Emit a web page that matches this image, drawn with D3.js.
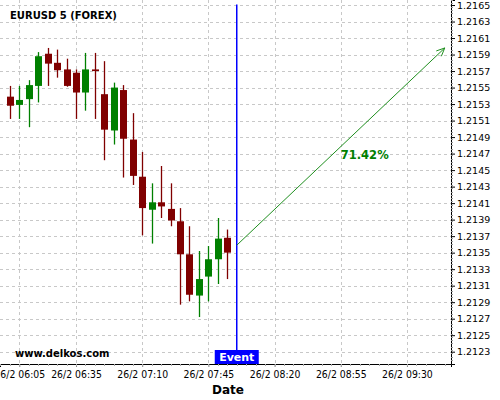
<!DOCTYPE html>
<html><head><meta charset="utf-8">
<script src="https://cdn.jsdelivr.net/npm/d3@7"></script>
<style>html,body{margin:0;padding:0;background:#fff;}svg{display:block;font-family:"DejaVu Sans",sans-serif;}</style>
</head><body><svg id="c" width="500" height="400"></svg>
<script>
const title = "EURUSD 5 (FOREX)";
const times = ["06:00","06:05","06:10","06:15","06:20","06:25","06:30","06:35","06:40","06:45","06:50","06:55",
               "07:00","07:05","07:10","07:15","07:20","07:25","07:30","07:35","07:40","07:45","07:50","07:55"];
const opens  = [1.21539,1.21529,1.21536,1.21552,1.21591,1.21580,1.21572,1.21568,1.21544,1.21572,1.21542,1.21498,
                1.21547,1.21487,1.21442,1.21402,1.21411,1.21403,1.21388,1.21348,1.21298,1.21321,1.21342,1.21368];
const highs  = [1.21552,1.21552,1.21559,1.21593,1.21598,1.21596,1.21585,1.21572,1.21592,1.21592,1.21582,1.21556,
                1.21553,1.21519,1.21472,1.21434,1.21455,1.21434,1.21404,1.21382,1.21352,1.21358,1.21392,1.21378];
const lows   = [1.21512,1.21512,1.21502,1.21532,1.21552,1.21562,1.21551,1.21512,1.21522,1.21512,1.21462,1.21481,
                1.21441,1.21432,1.21371,1.21361,1.21392,1.21382,1.21287,1.21291,1.21272,1.21291,1.21312,1.21318];
const closes = [1.21528,1.21535,1.21553,1.21588,1.21579,1.21571,1.21552,1.21544,1.21572,1.21570,1.21499,1.21550,
                1.21488,1.21443,1.21404,1.21411,1.21406,1.21389,1.21348,1.21299,1.21318,1.21342,1.21367,1.21350];
const xTickLabels = ["06:05","06:35","07:10","07:45","08:20","08:55","09:30"];
const yTicks = [1.2123,1.2125,1.2127,1.2129,1.2131,1.2133,1.2135,1.2137,1.2139,1.2141,1.2143,1.2145,
                1.2147,1.2149,1.2151,1.2153,1.2155,1.2157,1.2159,1.2161,1.2163,1.2165];
const eventTime = "08:00";
const arrowFrom = {time:"08:00", value:1.21359};
const arrowTo   = {time:"09:50", value:1.21598};
const arrowLabel = "71.42%";
const arrowLabelPos = {time:"08:55", value:1.21463};
const watermark = "www.delkos.com";
const xTitle = "Date";

const day = "2021-02-26";
const parseT = d3.timeParse("%Y-%m-%d %H:%M:%S");
const T = s => parseT(day + " " + (s.length === 5 ? s + ":00" : s));

const W = 451, H = 364;
const x = d3.scaleTime().domain([T("05:54:48"), T("09:53:18")]).range([0, W]);
const y = d3.scaleLinear().domain([1.212151, 1.216561]).range([H, 0]);

const svg = d3.select("#c");
const red = "#800000", green = "#008000", grid = "#c8c8c8";

// grid
const xTicks = xTickLabels.map(T);
svg.append("g").selectAll("line").data(yTicks).join("line")
  .attr("x1", 0).attr("x2", W).attr("y1", d => Math.round(y(d)) + 0.5).attr("y2", d => Math.round(y(d)) + 0.5)
  .attr("stroke", grid).attr("stroke-dasharray", "3,3");
svg.append("g").selectAll("line").data(xTicks).join("line")
  .attr("y1", 0).attr("y2", H).attr("x1", d => Math.round(x(d)) + 0.5).attr("x2", d => Math.round(x(d)) + 0.5)
  .attr("stroke", grid).attr("stroke-dasharray", "3,3");

// candles
const data = times.map((t, i) => ({t: T(t), o: opens[i], h: highs[i], l: lows[i], c: closes[i]}));
const cg = svg.append("g");
const bw = 7;
cg.selectAll("line").data(data).join("line")
  .attr("x1", d => Math.round(x(d.t)) + 0.5).attr("x2", d => Math.round(x(d.t)) + 0.5)
  .attr("y1", d => y(d.h)).attr("y2", d => y(d.l))
  .attr("stroke", d => d.c >= d.o ? green : red).attr("stroke-width", 1.3);
cg.selectAll("rect").data(data).join("rect")
  .attr("x", d => Math.round(x(d.t)) + 0.5 - bw / 2)
  .attr("width", bw)
  .attr("y", d => y(Math.max(d.o, d.c)))
  .attr("height", d => Math.max(1.5, Math.abs(y(d.o) - y(d.c))))
  .attr("fill", d => d.c >= d.o ? green : red);

// axes
const xAxis = d3.axisBottom(x).tickValues(xTicks).tickSize(3).tickFormat(d3.timeFormat("%-d/%-m %H:%M"));
const gx = svg.append("g").attr("transform", `translate(0,${H})`).call(xAxis);
gx.select(".domain").attr("stroke", "#000");
gx.selectAll(".tick line").attr("stroke", "#888");
gx.selectAll("text").attr("font-family", "DejaVu Sans").attr("font-size", 10).attr("fill", "#000")
  .attr("dy", "0.75em").attr("y", 6)
  .attr("textLength", 50.7).attr("lengthAdjust", "spacingAndGlyphs");
// x minor ticks (every 5 minutes)
const minorX = d3.timeMinute.every(5).range(x.domain()[0], x.domain()[1]);
svg.append("g").selectAll("line").data(minorX).join("line")
  .attr("x1", d => Math.round(x(d)) + 0.5).attr("x2", d => Math.round(x(d)) + 0.5)
  .attr("y1", H).attr("y2", H + 2).attr("stroke", "#aaa");

const yAxis = d3.axisRight(y).tickValues(yTicks).tickSize(4).tickFormat(d3.format(".4f"));
const gy = svg.append("g").attr("transform", `translate(${W},0)`).call(yAxis);
gy.select(".domain").attr("stroke", "#000");
gy.selectAll("text").attr("font-family", "DejaVu Sans").attr("font-size", 9.5).attr("fill", "#000").attr("x", 6);
const minorY = d3.range(0, 110).map(i => 1.2122 + i * 0.00004).filter(v => v < y.domain()[1] && v > y.domain()[0]);
svg.append("g").selectAll("line").data(minorY).join("line")
  .attr("x1", W).attr("x2", W + 2).attr("y1", d => Math.round(y(d)) + 0.5).attr("y2", d => Math.round(y(d)) + 0.5)
  .attr("stroke", "#999");

// event line
const ex = x(T(eventTime));
svg.append("line").attr("x1", ex).attr("x2", ex).attr("y1", y(1.2165) - 0.5).attr("y2", H)
  .attr("stroke", "#0000ff").attr("stroke-width", 1.5);
svg.append("rect").attr("x", ex - 22).attr("y", H - 14).attr("width", 44).attr("height", 14).attr("fill", "#0000ff");
svg.append("text").attr("x", ex).attr("y", H - 3).attr("text-anchor", "middle")
  .attr("font-weight", "bold").attr("font-size", 11).attr("fill", "#fff").text("Event");

// arrow
const ax1 = x(T(arrowFrom.time)), ay1 = y(arrowFrom.value);
const ax2 = x(T(arrowTo.time)), ay2 = y(arrowTo.value);
const ac = "#1f8f1f";
svg.append("line").attr("x1", ax1).attr("y1", ay1).attr("x2", ax2).attr("y2", ay2).attr("stroke", ac).attr("stroke-width", 1);
const ang = Math.atan2(ay2 - ay1, ax2 - ax1);
const hl = 9, ha = 0.42;
const hp = d3.path();
hp.moveTo(ax2 - hl * Math.cos(ang - ha), ay2 - hl * Math.sin(ang - ha));
hp.lineTo(ax2, ay2);
hp.lineTo(ax2 - hl * Math.cos(ang + ha), ay2 - hl * Math.sin(ang + ha));
svg.append("path").attr("d", hp.toString()).attr("fill", "none").attr("stroke", ac).attr("stroke-width", 1);
svg.append("text").attr("x", x(T(arrowLabelPos.time))).attr("y", y(arrowLabelPos.value))
  .attr("font-weight", "bold").attr("font-size", 11.5).attr("fill", green).text(arrowLabel);

// texts
svg.append("text").attr("x", 10).attr("y", 19).attr("font-weight", "bold").attr("font-size", 10).attr("fill", "#000").text(title);
svg.append("text").attr("x", 15).attr("y", 357).attr("font-weight", "bold").attr("font-size", 10).attr("fill", "#000").text(watermark);
svg.append("text").attr("x", 228).attr("y", 394).attr("text-anchor", "middle").attr("font-weight", "bold").attr("font-size", 12).attr("fill", "#000").text(xTitle);
</script></body></html>
